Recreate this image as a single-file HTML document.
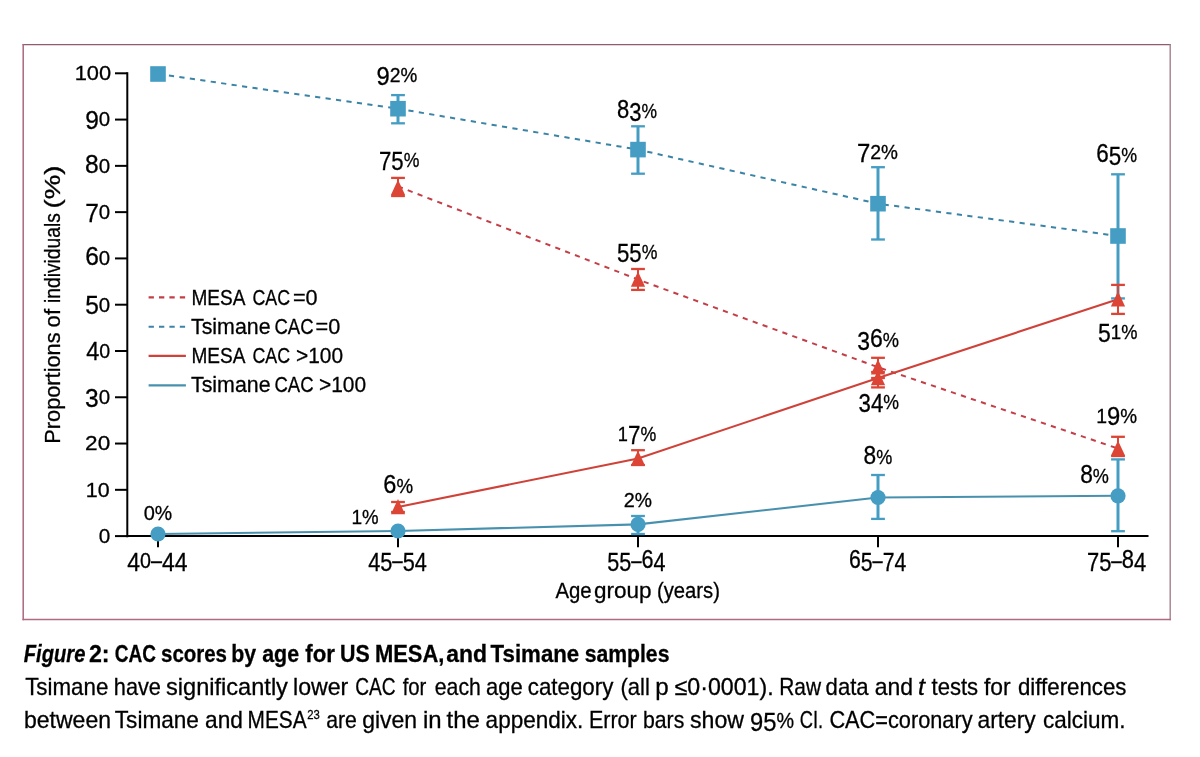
<!DOCTYPE html>
<html><head><meta charset="utf-8"><title>Figure 2</title>
<style>html,body{margin:0;padding:0;background:#fff;width:1200px;height:757px;overflow:hidden;font-family:"Liberation Sans",sans-serif;}svg{display:block;will-change:transform}</style>
</head><body><svg width="1200" height="757" viewBox="0 0 1200 757" font-family="'Liberation Sans', sans-serif"><line x1="22.6" y1="44.6" x2="1170.8" y2="44.6" stroke="#8e5d6f" stroke-width="1.4"/><line x1="23.2" y1="44" x2="23.2" y2="620.2" stroke="#a8687f" stroke-width="1.5"/><line x1="1170.2" y1="44" x2="1170.2" y2="620.2" stroke="#a3808e" stroke-width="1.4"/><line x1="22.5" y1="619.5" x2="1170.8" y2="619.5" stroke="#b06a84" stroke-width="1.4"/><line x1="127.3" y1="72.3" x2="127.3" y2="537.3" stroke="#000" stroke-width="2"/><line x1="126.3" y1="536.1" x2="1148.5" y2="536.1" stroke="#000" stroke-width="2"/><line x1="115" y1="536.10" x2="127.5" y2="536.10" stroke="#000" stroke-width="2"/><line x1="115" y1="489.82" x2="127.5" y2="489.82" stroke="#000" stroke-width="2"/><line x1="115" y1="443.54" x2="127.5" y2="443.54" stroke="#000" stroke-width="2"/><line x1="115" y1="397.26" x2="127.5" y2="397.26" stroke="#000" stroke-width="2"/><line x1="115" y1="350.98" x2="127.5" y2="350.98" stroke="#000" stroke-width="2"/><line x1="115" y1="304.70" x2="127.5" y2="304.70" stroke="#000" stroke-width="2"/><line x1="115" y1="258.42" x2="127.5" y2="258.42" stroke="#000" stroke-width="2"/><line x1="115" y1="212.14" x2="127.5" y2="212.14" stroke="#000" stroke-width="2"/><line x1="115" y1="165.86" x2="127.5" y2="165.86" stroke="#000" stroke-width="2"/><line x1="115" y1="119.58" x2="127.5" y2="119.58" stroke="#000" stroke-width="2"/><line x1="115" y1="73.30" x2="127.5" y2="73.30" stroke="#000" stroke-width="2"/><line x1="158" y1="536" x2="158" y2="547.3" stroke="#000" stroke-width="2"/><line x1="398" y1="536" x2="398" y2="547.3" stroke="#000" stroke-width="2"/><line x1="638" y1="536" x2="638" y2="547.3" stroke="#000" stroke-width="2"/><line x1="878" y1="536" x2="878" y2="547.3" stroke="#000" stroke-width="2"/><line x1="1118" y1="536" x2="1118" y2="547.3" stroke="#000" stroke-width="2"/><line x1="148.6" y1="297.4" x2="185.9" y2="297.4" stroke="#c43e48" stroke-width="2.1" stroke-dasharray="5.3 5.1"/><line x1="148.6" y1="326.7" x2="185.9" y2="326.7" stroke="#3b84a6" stroke-width="2.1" stroke-dasharray="5.3 5.1"/><line x1="148.6" y1="355.9" x2="185.9" y2="355.9" stroke="#cf4239" stroke-width="2.1"/><line x1="148.6" y1="385.4" x2="185.9" y2="385.4" stroke="#4891ae" stroke-width="2.1"/><line x1="158" y1="74.0" x2="398" y2="108.7" stroke="#3b84a6" stroke-width="2" stroke-dasharray="5.2 5.35" stroke-dashoffset="10.06"/><line x1="398" y1="108.7" x2="638" y2="149.6" stroke="#3b84a6" stroke-width="2" stroke-dasharray="5.2 5.35" stroke-dashoffset="0.01"/><line x1="638" y1="149.6" x2="878" y2="203.7" stroke="#3b84a6" stroke-width="2" stroke-dasharray="5.2 5.35" stroke-dashoffset="1.02"/><line x1="878" y1="203.7" x2="1118" y2="236.0" stroke="#3b84a6" stroke-width="2" stroke-dasharray="5.2 5.35" stroke-dashoffset="4.88"/><line x1="398" y1="186.4" x2="638" y2="279.5" stroke="#c43e48" stroke-width="2" stroke-dasharray="5.2 5.35" stroke-dashoffset="0.09"/><line x1="638" y1="279.5" x2="878" y2="367.2" stroke="#c43e48" stroke-width="2" stroke-dasharray="5.2 5.35" stroke-dashoffset="4.51"/><line x1="878" y1="367.2" x2="1118" y2="448.5" stroke="#c43e48" stroke-width="2" stroke-dasharray="5.2 5.35" stroke-dashoffset="7.37"/><polyline points="398,507.0 638,458.5 878,378.0 1118,299.2" fill="none" stroke="#cf4239" stroke-width="2.1"/><polyline points="158,534.0 398,531.0 638,524.4 878,497.5 1118,495.8" fill="none" stroke="#4891ae" stroke-width="2.1"/><rect x="150.2" y="66.2" width="15.6" height="15.6" fill="#459dc3"/><line x1="398" y1="95.1" x2="398" y2="123.3" stroke="#459dc3" stroke-width="3"/><line x1="391.1" y1="95.1" x2="404.9" y2="95.1" stroke="#459dc3" stroke-width="2.3"/><line x1="391.1" y1="123.3" x2="404.9" y2="123.3" stroke="#459dc3" stroke-width="2.3"/><rect x="390.2" y="100.9" width="15.6" height="15.6" fill="#459dc3"/><line x1="638" y1="126.3" x2="638" y2="173.7" stroke="#459dc3" stroke-width="3"/><line x1="631.1" y1="126.3" x2="644.9" y2="126.3" stroke="#459dc3" stroke-width="2.3"/><line x1="631.1" y1="173.7" x2="644.9" y2="173.7" stroke="#459dc3" stroke-width="2.3"/><rect x="630.2" y="141.79999999999998" width="15.6" height="15.6" fill="#459dc3"/><line x1="878" y1="167.2" x2="878" y2="239.5" stroke="#459dc3" stroke-width="3"/><line x1="871.1" y1="167.2" x2="884.9" y2="167.2" stroke="#459dc3" stroke-width="2.3"/><line x1="871.1" y1="239.5" x2="884.9" y2="239.5" stroke="#459dc3" stroke-width="2.3"/><rect x="870.2" y="195.89999999999998" width="15.6" height="15.6" fill="#459dc3"/><line x1="1118" y1="174.3" x2="1118" y2="298.4" stroke="#459dc3" stroke-width="3"/><line x1="1111.1" y1="174.3" x2="1124.9" y2="174.3" stroke="#459dc3" stroke-width="2.3"/><line x1="1111.1" y1="298.4" x2="1124.9" y2="298.4" stroke="#459dc3" stroke-width="2.3"/><rect x="1110.2" y="228.2" width="15.6" height="15.6" fill="#459dc3"/><line x1="398" y1="177.9" x2="398" y2="196" stroke="#dc4535" stroke-width="2"/><line x1="391.1" y1="177.9" x2="404.9" y2="177.9" stroke="#dc4535" stroke-width="2.3"/><line x1="391.1" y1="196" x2="404.9" y2="196" stroke="#dc4535" stroke-width="2.3"/><line x1="638" y1="269.0" x2="638" y2="289.9" stroke="#dc4535" stroke-width="2"/><line x1="631.1" y1="269.0" x2="644.9" y2="269.0" stroke="#dc4535" stroke-width="2.3"/><line x1="631.1" y1="289.9" x2="644.9" y2="289.9" stroke="#dc4535" stroke-width="2.3"/><line x1="878" y1="357.8" x2="878" y2="378.0" stroke="#dc4535" stroke-width="2"/><line x1="871.1" y1="357.8" x2="884.9" y2="357.8" stroke="#dc4535" stroke-width="2.3"/><line x1="871.1" y1="378.0" x2="884.9" y2="378.0" stroke="#dc4535" stroke-width="2.3"/><line x1="1118" y1="436.8" x2="1118" y2="456.0" stroke="#dc4535" stroke-width="2"/><line x1="1111.1" y1="436.8" x2="1124.9" y2="436.8" stroke="#dc4535" stroke-width="2.3"/><line x1="1111.1" y1="456.0" x2="1124.9" y2="456.0" stroke="#dc4535" stroke-width="2.3"/><line x1="398" y1="502.0" x2="398" y2="512" stroke="#dc4535" stroke-width="2"/><line x1="391.1" y1="502.0" x2="404.9" y2="502.0" stroke="#dc4535" stroke-width="2.3"/><line x1="391.1" y1="512" x2="404.9" y2="512" stroke="#dc4535" stroke-width="2.3"/><line x1="638" y1="450.2" x2="638" y2="465" stroke="#dc4535" stroke-width="2"/><line x1="631.1" y1="450.2" x2="644.9" y2="450.2" stroke="#dc4535" stroke-width="2.3"/><line x1="631.1" y1="465" x2="644.9" y2="465" stroke="#dc4535" stroke-width="2.3"/><line x1="878" y1="372" x2="878" y2="387.4" stroke="#dc4535" stroke-width="2"/><line x1="871.1" y1="372" x2="884.9" y2="372" stroke="#dc4535" stroke-width="2.3"/><line x1="871.1" y1="387.4" x2="884.9" y2="387.4" stroke="#dc4535" stroke-width="2.3"/><line x1="1118" y1="284.9" x2="1118" y2="313.9" stroke="#dc4535" stroke-width="2"/><line x1="1111.1" y1="284.9" x2="1124.9" y2="284.9" stroke="#dc4535" stroke-width="2.3"/><line x1="1111.1" y1="313.9" x2="1124.9" y2="313.9" stroke="#dc4535" stroke-width="2.3"/><polygon points="398,179.85 405.1,194.95 390.9,194.95" fill="#dc4535"/><polygon points="638,271.60 645.1,286.70 630.9,286.70" fill="#dc4535"/><polygon points="878,359.30 885.1,374.40 870.9,374.40" fill="#dc4535"/><polygon points="1118,440.60 1125.1,455.70 1110.9,455.70" fill="#dc4535"/><polygon points="398,499.10 405.1,514.20 390.9,514.20" fill="#dc4535"/><polygon points="638,450.60 645.1,465.70 630.9,465.70" fill="#dc4535"/><polygon points="878,370.10 885.1,385.20 870.9,385.20" fill="#dc4535"/><polygon points="1118,291.30 1125.1,306.40 1110.9,306.40" fill="#dc4535"/><circle cx="158" cy="534.0" r="7.6" fill="#459dc3"/><circle cx="398" cy="531.0" r="7.6" fill="#459dc3"/><line x1="638" y1="516.0" x2="638" y2="534.0" stroke="#459dc3" stroke-width="3"/><line x1="631.1" y1="516.0" x2="644.9" y2="516.0" stroke="#459dc3" stroke-width="2.3"/><line x1="631.1" y1="534.0" x2="644.9" y2="534.0" stroke="#459dc3" stroke-width="2.3"/><circle cx="638" cy="524.4" r="7.6" fill="#459dc3"/><line x1="878" y1="475.0" x2="878" y2="518.9" stroke="#459dc3" stroke-width="3"/><line x1="871.1" y1="475.0" x2="884.9" y2="475.0" stroke="#459dc3" stroke-width="2.3"/><line x1="871.1" y1="518.9" x2="884.9" y2="518.9" stroke="#459dc3" stroke-width="2.3"/><circle cx="878" cy="497.5" r="7.6" fill="#459dc3"/><line x1="1118" y1="459.4" x2="1118" y2="531.2" stroke="#459dc3" stroke-width="3"/><line x1="1111.1" y1="459.4" x2="1124.9" y2="459.4" stroke="#459dc3" stroke-width="2.3"/><line x1="1111.1" y1="531.2" x2="1124.9" y2="531.2" stroke="#459dc3" stroke-width="2.3"/><circle cx="1118" cy="495.8" r="7.6" fill="#459dc3"/><g stroke="#000" stroke-width="0.3"><text x="110.20" y="542.9" font-size="21" text-anchor="end" font-weight="normal" font-style="normal" fill="#000" textLength="11.53" lengthAdjust="spacingAndGlyphs"><tspan font-size="21">0</tspan></text><text x="109.60" y="496.62" font-size="21" text-anchor="end" font-weight="normal" font-style="normal" fill="#000" textLength="23.81" lengthAdjust="spacingAndGlyphs"><tspan font-size="21">1</tspan><tspan font-size="21">0</tspan></text><text x="110.20" y="450.34" font-size="21" text-anchor="end" font-weight="normal" font-style="normal" fill="#000" textLength="25.08" lengthAdjust="spacingAndGlyphs"><tspan font-size="21">2</tspan><tspan font-size="21">0</tspan></text><text x="110.20" y="404.06" font-size="21" text-anchor="end" font-weight="normal" font-style="normal" fill="#000" textLength="25.08" lengthAdjust="spacingAndGlyphs"><tspan font-size="25.2" dy="2.60">3</tspan><tspan font-size="21" dy="-2.60">0</tspan></text><text x="110.20" y="357.78" font-size="21" text-anchor="end" font-weight="normal" font-style="normal" fill="#000" textLength="23.99" lengthAdjust="spacingAndGlyphs"><tspan font-size="25.2" dy="2.60">4</tspan><tspan font-size="21" dy="-2.60">0</tspan></text><text x="110.20" y="311.5" font-size="21" text-anchor="end" font-weight="normal" font-style="normal" fill="#000" textLength="24.99" lengthAdjust="spacingAndGlyphs"><tspan font-size="25.2" dy="2.60">5</tspan><tspan font-size="21" dy="-2.60">0</tspan></text><text x="110.20" y="265.22" font-size="21" text-anchor="end" font-weight="normal" font-style="normal" fill="#000" textLength="24.99" lengthAdjust="spacingAndGlyphs"><tspan font-size="25.2">6</tspan><tspan font-size="21">0</tspan></text><text x="110.20" y="218.94" font-size="21" text-anchor="end" font-weight="normal" font-style="normal" fill="#000" textLength="24.99" lengthAdjust="spacingAndGlyphs"><tspan font-size="25.2" dy="2.60">7</tspan><tspan font-size="21" dy="-2.60">0</tspan></text><text x="110.20" y="172.66" font-size="21" text-anchor="end" font-weight="normal" font-style="normal" fill="#000" textLength="25.08" lengthAdjust="spacingAndGlyphs"><tspan font-size="25.2">8</tspan><tspan font-size="21">0</tspan></text><text x="110.20" y="126.38" font-size="21" text-anchor="end" font-weight="normal" font-style="normal" fill="#000" textLength="24.99" lengthAdjust="spacingAndGlyphs"><tspan font-size="25.2" dy="2.60">9</tspan><tspan font-size="21" dy="-2.60">0</tspan></text><text x="111.20" y="80.1" font-size="21" text-anchor="end" font-weight="normal" font-style="normal" fill="#000" textLength="36.47" lengthAdjust="spacingAndGlyphs"><tspan font-size="21">1</tspan><tspan font-size="21">0</tspan><tspan font-size="21">0</tspan></text><text x="157.40" y="568" font-size="21.6" text-anchor="middle" font-weight="normal" font-style="normal" fill="#000" textLength="60.25" lengthAdjust="spacingAndGlyphs"><tspan font-size="25.2" dy="2.70">4</tspan><tspan font-size="21.6" dy="-2.70">0</tspan><tspan font-size="21.6">–</tspan><tspan font-size="25.2" dy="2.70">4</tspan><tspan font-size="25.2">4</tspan></text><text x="397.50" y="568" font-size="21.6" text-anchor="middle" font-weight="normal" font-style="normal" fill="#000" textLength="58.71" lengthAdjust="spacingAndGlyphs"><tspan font-size="25.2" dy="2.70">4</tspan><tspan font-size="25.2">5</tspan><tspan font-size="21.6" dy="-2.70">–</tspan><tspan font-size="25.2" dy="2.70">5</tspan><tspan font-size="25.2">4</tspan></text><text x="636.40" y="568" font-size="21.6" text-anchor="middle" font-weight="normal" font-style="normal" fill="#000" textLength="58.29" lengthAdjust="spacingAndGlyphs"><tspan font-size="25.2" dy="2.70">5</tspan><tspan font-size="25.2">5</tspan><tspan font-size="21.6" dy="-2.70">–</tspan><tspan font-size="25.2">6</tspan><tspan font-size="25.2" dy="2.70">4</tspan></text><text x="877.60" y="568" font-size="21.6" text-anchor="middle" font-weight="normal" font-style="normal" fill="#000" textLength="57.25" lengthAdjust="spacingAndGlyphs"><tspan font-size="25.2">6</tspan><tspan font-size="25.2" dy="2.70">5</tspan><tspan font-size="21.6" dy="-2.70">–</tspan><tspan font-size="25.2" dy="2.70">7</tspan><tspan font-size="25.2">4</tspan></text><text x="1116.60" y="568" font-size="21.6" text-anchor="middle" font-weight="normal" font-style="normal" fill="#000" textLength="59.31" lengthAdjust="spacingAndGlyphs"><tspan font-size="25.2" dy="2.70">7</tspan><tspan font-size="25.2">5</tspan><tspan font-size="21.6" dy="-2.70">–</tspan><tspan font-size="25.2">8</tspan><tspan font-size="25.2" dy="2.70">4</tspan></text><text x="555.40" y="597.75" font-size="22" text-anchor="start" font-weight="normal" font-style="normal" fill="#000" textLength="36.20" lengthAdjust="spacingAndGlyphs">Age</text><text x="594.00" y="597.75" font-size="22" text-anchor="start" font-weight="normal" font-style="normal" fill="#000" textLength="57.54" lengthAdjust="spacingAndGlyphs">group</text><text x="657.00" y="597.75" font-size="22" text-anchor="start" font-weight="normal" font-style="normal" fill="#000" textLength="62.94" lengthAdjust="spacingAndGlyphs">(years)</text><text transform="translate(59.8,0) rotate(-90)" x="-443.70" y="0" font-size="22.5" fill="#000" textLength="111.21" lengthAdjust="spacingAndGlyphs">Proportions</text><text transform="translate(59.8,0) rotate(-90)" x="-327.40" y="0" font-size="22.5" fill="#000" textLength="18.44" lengthAdjust="spacingAndGlyphs">of</text><text transform="translate(59.8,0) rotate(-90)" x="-303.00" y="0" font-size="22.5" fill="#000" textLength="89.90" lengthAdjust="spacingAndGlyphs">individuals</text><text transform="translate(59.8,0) rotate(-90)" x="-208.50" y="0" font-size="22.5" fill="#000" textLength="42.93" lengthAdjust="spacingAndGlyphs">(%)</text><text x="191.50" y="304.6" font-size="22.4" text-anchor="start" font-weight="normal" font-style="normal" fill="#000" textLength="54.00" lengthAdjust="spacingAndGlyphs">MESA</text><text x="252.50" y="304.6" font-size="22.4" text-anchor="start" font-weight="normal" font-style="normal" fill="#000" textLength="37.63" lengthAdjust="spacingAndGlyphs">CAC</text><text x="293.00" y="304.6" font-size="22.4" text-anchor="start" font-weight="normal" font-style="normal" fill="#000" textLength="24.65" lengthAdjust="spacingAndGlyphs">=0</text><text x="191.00" y="333.6" font-size="22.4" text-anchor="start" font-weight="normal" font-style="normal" fill="#000" textLength="79.52" lengthAdjust="spacingAndGlyphs">Tsimane</text><text x="274.50" y="333.6" font-size="22.4" text-anchor="start" font-weight="normal" font-style="normal" fill="#000" textLength="39.09" lengthAdjust="spacingAndGlyphs">CAC</text><text x="315.50" y="333.6" font-size="22.4" text-anchor="start" font-weight="normal" font-style="normal" fill="#000" textLength="24.71" lengthAdjust="spacingAndGlyphs">=0</text><text x="191.50" y="362.9" font-size="22.4" text-anchor="start" font-weight="normal" font-style="normal" fill="#000" textLength="54.00" lengthAdjust="spacingAndGlyphs">MESA</text><text x="252.50" y="362.9" font-size="22.4" text-anchor="start" font-weight="normal" font-style="normal" fill="#000" textLength="37.63" lengthAdjust="spacingAndGlyphs">CAC</text><text x="296.00" y="362.9" font-size="22.4" text-anchor="start" font-weight="normal" font-style="normal" fill="#000" textLength="47.03" lengthAdjust="spacingAndGlyphs">&gt;100</text><text x="191.00" y="392.2" font-size="22.4" text-anchor="start" font-weight="normal" font-style="normal" fill="#000" textLength="79.52" lengthAdjust="spacingAndGlyphs">Tsimane</text><text x="274.50" y="392.2" font-size="22.4" text-anchor="start" font-weight="normal" font-style="normal" fill="#000" textLength="39.09" lengthAdjust="spacingAndGlyphs">CAC</text><text x="319.00" y="392.2" font-size="22.4" text-anchor="start" font-weight="normal" font-style="normal" fill="#000" textLength="47.12" lengthAdjust="spacingAndGlyphs">&gt;100</text><text x="397.00" y="82" font-size="20.5" text-anchor="middle" font-weight="normal" font-style="normal" fill="#000" textLength="40.77" lengthAdjust="spacingAndGlyphs"><tspan font-size="25.2" dy="2.80">9</tspan><tspan font-size="20.5" dy="-2.80">2</tspan><tspan font-size="20">%</tspan></text><text x="399.12" y="166.75" font-size="20.5" text-anchor="middle" font-weight="normal" font-style="normal" fill="#000" textLength="40.43" lengthAdjust="spacingAndGlyphs"><tspan font-size="25.2" dy="2.80">7</tspan><tspan font-size="25.2">5</tspan><tspan font-size="20" dy="-2.80">%</tspan></text><text x="637.05" y="118" font-size="20.5" text-anchor="middle" font-weight="normal" font-style="normal" fill="#000" textLength="40.03" lengthAdjust="spacingAndGlyphs"><tspan font-size="25.2">8</tspan><tspan font-size="25.2" dy="2.80">3</tspan><tspan font-size="20" dy="-2.80">%</tspan></text><text x="637.12" y="258.75" font-size="20.5" text-anchor="middle" font-weight="normal" font-style="normal" fill="#000" textLength="40.43" lengthAdjust="spacingAndGlyphs"><tspan font-size="25.2" dy="2.80">5</tspan><tspan font-size="25.2">5</tspan><tspan font-size="20" dy="-2.80">%</tspan></text><text x="877.50" y="158.75" font-size="20.5" text-anchor="middle" font-weight="normal" font-style="normal" fill="#000" textLength="41.03" lengthAdjust="spacingAndGlyphs"><tspan font-size="25.2" dy="2.80">7</tspan><tspan font-size="20.5" dy="-2.80">2</tspan><tspan font-size="20">%</tspan></text><text x="878.00" y="346.75" font-size="20.5" text-anchor="middle" font-weight="normal" font-style="normal" fill="#000" textLength="41.74" lengthAdjust="spacingAndGlyphs"><tspan font-size="25.2" dy="2.80">3</tspan><tspan font-size="25.2" dy="-2.80">6</tspan><tspan font-size="20">%</tspan></text><text x="878.75" y="408.75" font-size="20.5" text-anchor="middle" font-weight="normal" font-style="normal" fill="#000" textLength="40.50" lengthAdjust="spacingAndGlyphs"><tspan font-size="25.2" dy="2.80">3</tspan><tspan font-size="25.2">4</tspan><tspan font-size="20" dy="-2.80">%</tspan></text><text x="1116.75" y="161.75" font-size="20.5" text-anchor="middle" font-weight="normal" font-style="normal" fill="#000" textLength="40.77" lengthAdjust="spacingAndGlyphs"><tspan font-size="25.2">6</tspan><tspan font-size="25.2" dy="2.80">5</tspan><tspan font-size="20" dy="-2.80">%</tspan></text><text x="1117.75" y="338.75" font-size="20.5" text-anchor="middle" font-weight="normal" font-style="normal" fill="#000" textLength="39.44" lengthAdjust="spacingAndGlyphs"><tspan font-size="25.2" dy="2.80">5</tspan><tspan font-size="20.5" dy="-2.80">1</tspan><tspan font-size="20">%</tspan></text><text x="1116.70" y="422.6" font-size="20.5" text-anchor="middle" font-weight="normal" font-style="normal" fill="#000" textLength="40.87" lengthAdjust="spacingAndGlyphs"><tspan font-size="20.5">1</tspan><tspan font-size="25.2" dy="2.80">9</tspan><tspan font-size="20" dy="-2.80">%</tspan></text><text x="1094.50" y="483" font-size="20.5" text-anchor="middle" font-weight="normal" font-style="normal" fill="#000" textLength="28.73" lengthAdjust="spacingAndGlyphs"><tspan font-size="25.2">8</tspan><tspan font-size="20">%</tspan></text><text x="877.85" y="463.8" font-size="20.5" text-anchor="middle" font-weight="normal" font-style="normal" fill="#000" textLength="28.72" lengthAdjust="spacingAndGlyphs"><tspan font-size="25.2">8</tspan><tspan font-size="20">%</tspan></text><text x="637.00" y="440.7" font-size="20.5" text-anchor="middle" font-weight="normal" font-style="normal" fill="#000" textLength="38.37" lengthAdjust="spacingAndGlyphs"><tspan font-size="20.5">1</tspan><tspan font-size="25.2" dy="2.80">7</tspan><tspan font-size="20" dy="-2.80">%</tspan></text><text x="637.80" y="506.7" font-size="20.5" text-anchor="middle" font-weight="normal" font-style="normal" fill="#000" textLength="28.24" lengthAdjust="spacingAndGlyphs"><tspan font-size="20.5">2</tspan><tspan font-size="20">%</tspan></text><text x="398.20" y="492.8" font-size="20.5" text-anchor="middle" font-weight="normal" font-style="normal" fill="#000" textLength="29.69" lengthAdjust="spacingAndGlyphs"><tspan font-size="25.2">6</tspan><tspan font-size="20">%</tspan></text><text x="365.00" y="523.9" font-size="20.5" text-anchor="middle" font-weight="normal" font-style="normal" fill="#000" textLength="27.21" lengthAdjust="spacingAndGlyphs"><tspan font-size="20.5">1</tspan><tspan font-size="20">%</tspan></text><text x="157.90" y="520" font-size="20.5" text-anchor="middle" font-weight="normal" font-style="normal" fill="#000" textLength="28.48" lengthAdjust="spacingAndGlyphs"><tspan font-size="20.5">0</tspan><tspan font-size="20">%</tspan></text><text x="23.80" y="661.75" font-size="23.8" text-anchor="start" font-weight="bold" font-style="italic" fill="#000" textLength="61.55" lengthAdjust="spacingAndGlyphs">Figure</text><text x="88.90" y="661.75" font-size="23.8" text-anchor="start" font-weight="bold" font-style="normal" fill="#000" textLength="20.66" lengthAdjust="spacingAndGlyphs">2:</text><text x="114.80" y="661.75" font-size="23.8" text-anchor="start" font-weight="bold" font-style="normal" fill="#000" textLength="41.26" lengthAdjust="spacingAndGlyphs">CAC</text><text x="161.00" y="661.75" font-size="23.8" text-anchor="start" font-weight="bold" font-style="normal" fill="#000" textLength="66.00" lengthAdjust="spacingAndGlyphs">scores</text><text x="231.30" y="661.75" font-size="23.8" text-anchor="start" font-weight="bold" font-style="normal" fill="#000" textLength="24.86" lengthAdjust="spacingAndGlyphs">by</text><text x="262.20" y="661.75" font-size="23.8" text-anchor="start" font-weight="bold" font-style="normal" fill="#000" textLength="36.90" lengthAdjust="spacingAndGlyphs">age</text><text x="305.30" y="661.75" font-size="23.8" text-anchor="start" font-weight="bold" font-style="normal" fill="#000" textLength="29.62" lengthAdjust="spacingAndGlyphs">for</text><text x="340.00" y="661.75" font-size="23.8" text-anchor="start" font-weight="bold" font-style="normal" fill="#000" textLength="29.70" lengthAdjust="spacingAndGlyphs">US</text><text x="374.90" y="661.75" font-size="23.8" text-anchor="start" font-weight="bold" font-style="normal" fill="#000" textLength="69.50" lengthAdjust="spacingAndGlyphs">MESA,</text><text x="446.20" y="661.75" font-size="23.8" text-anchor="start" font-weight="bold" font-style="normal" fill="#000" textLength="40.84" lengthAdjust="spacingAndGlyphs">and</text><text x="490.60" y="661.75" font-size="23.8" text-anchor="start" font-weight="bold" font-style="normal" fill="#000" textLength="88.63" lengthAdjust="spacingAndGlyphs">Tsimane</text><text x="584.70" y="661.75" font-size="23.8" text-anchor="start" font-weight="bold" font-style="normal" fill="#000" textLength="84.73" lengthAdjust="spacingAndGlyphs">samples</text><text x="25.20" y="694.9" font-size="23.8" text-anchor="start" font-weight="normal" font-style="normal" fill="#000" textLength="83.17" lengthAdjust="spacingAndGlyphs">Tsimane</text><text x="113.80" y="694.9" font-size="23.8" text-anchor="start" font-weight="normal" font-style="normal" fill="#000" textLength="47.14" lengthAdjust="spacingAndGlyphs">have</text><text x="166.00" y="694.9" font-size="23.8" text-anchor="start" font-weight="normal" font-style="normal" fill="#000" textLength="121.92" lengthAdjust="spacingAndGlyphs">significantly</text><text x="293.00" y="694.9" font-size="23.8" text-anchor="start" font-weight="normal" font-style="normal" fill="#000" textLength="55.26" lengthAdjust="spacingAndGlyphs">lower</text><text x="355.20" y="694.9" font-size="23.8" text-anchor="start" font-weight="normal" font-style="normal" fill="#000" textLength="40.29" lengthAdjust="spacingAndGlyphs">CAC</text><text x="402.70" y="694.9" font-size="23.8" text-anchor="start" font-weight="normal" font-style="normal" fill="#000" textLength="23.70" lengthAdjust="spacingAndGlyphs">for</text><text x="434.80" y="694.9" font-size="23.8" text-anchor="start" font-weight="normal" font-style="normal" fill="#000" textLength="46.02" lengthAdjust="spacingAndGlyphs">each</text><text x="486.00" y="694.9" font-size="23.8" text-anchor="start" font-weight="normal" font-style="normal" fill="#000" textLength="36.64" lengthAdjust="spacingAndGlyphs">age</text><text x="527.80" y="694.9" font-size="23.8" text-anchor="start" font-weight="normal" font-style="normal" fill="#000" textLength="85.57" lengthAdjust="spacingAndGlyphs">category</text><text x="620.50" y="694.9" font-size="23.8" text-anchor="start" font-weight="normal" font-style="normal" fill="#000" textLength="29.38" lengthAdjust="spacingAndGlyphs">(all</text><text x="655.20" y="694.9" font-size="23.8" text-anchor="start" font-weight="normal" font-style="normal" fill="#000" textLength="13.45" lengthAdjust="spacingAndGlyphs">p</text><text x="674.60" y="694.9" font-size="23.8" text-anchor="start" font-weight="normal" font-style="normal" fill="#000" textLength="99.00" lengthAdjust="spacingAndGlyphs">≤0·0001).</text><text x="779.20" y="694.9" font-size="23.8" text-anchor="start" font-weight="normal" font-style="normal" fill="#000" textLength="41.80" lengthAdjust="spacingAndGlyphs">Raw</text><text x="825.60" y="694.9" font-size="23.8" text-anchor="start" font-weight="normal" font-style="normal" fill="#000" textLength="43.05" lengthAdjust="spacingAndGlyphs">data</text><text x="874.80" y="694.9" font-size="23.8" text-anchor="start" font-weight="normal" font-style="normal" fill="#000" textLength="38.36" lengthAdjust="spacingAndGlyphs">and</text><text x="918.00" y="694.9" font-size="23.8" text-anchor="start" font-weight="normal" font-style="italic" fill="#000" textLength="7.00" lengthAdjust="spacingAndGlyphs">t</text><text x="931.50" y="694.9" font-size="23.8" text-anchor="start" font-weight="normal" font-style="normal" fill="#000" textLength="46.62" lengthAdjust="spacingAndGlyphs">tests</text><text x="984.00" y="694.9" font-size="23.8" text-anchor="start" font-weight="normal" font-style="normal" fill="#000" textLength="26.65" lengthAdjust="spacingAndGlyphs">for</text><text x="1018.00" y="694.9" font-size="23.8" text-anchor="start" font-weight="normal" font-style="normal" fill="#000" textLength="108.42" lengthAdjust="spacingAndGlyphs">differences</text><text x="24.00" y="727.7" font-size="23.8" text-anchor="start" font-weight="normal" font-style="normal" fill="#000" textLength="86.98" lengthAdjust="spacingAndGlyphs">between</text><text x="114.80" y="727.7" font-size="23.8" text-anchor="start" font-weight="normal" font-style="normal" fill="#000" textLength="84.15" lengthAdjust="spacingAndGlyphs">Tsimane</text><text x="205.10" y="727.7" font-size="23.8" text-anchor="start" font-weight="normal" font-style="normal" fill="#000" textLength="37.90" lengthAdjust="spacingAndGlyphs">and</text><text x="247.60" y="727.7" font-size="23.8" text-anchor="start" font-weight="normal" font-style="normal" fill="#000" textLength="59.03" lengthAdjust="spacingAndGlyphs">MESA</text><text x="326.20" y="727.7" font-size="23.8" text-anchor="start" font-weight="normal" font-style="normal" fill="#000" textLength="30.68" lengthAdjust="spacingAndGlyphs">are</text><text x="362.20" y="727.7" font-size="23.8" text-anchor="start" font-weight="normal" font-style="normal" fill="#000" textLength="54.94" lengthAdjust="spacingAndGlyphs">given</text><text x="423.00" y="727.7" font-size="23.8" text-anchor="start" font-weight="normal" font-style="normal" fill="#000" textLength="18.65" lengthAdjust="spacingAndGlyphs">in</text><text x="446.50" y="727.7" font-size="23.8" text-anchor="start" font-weight="normal" font-style="normal" fill="#000" textLength="33.28" lengthAdjust="spacingAndGlyphs">the</text><text x="485.60" y="727.7" font-size="23.8" text-anchor="start" font-weight="normal" font-style="normal" fill="#000" textLength="97.75" lengthAdjust="spacingAndGlyphs">appendix.</text><text x="588.90" y="727.7" font-size="23.8" text-anchor="start" font-weight="normal" font-style="normal" fill="#000" textLength="47.84" lengthAdjust="spacingAndGlyphs">Error</text><text x="643.00" y="727.7" font-size="23.8" text-anchor="start" font-weight="normal" font-style="normal" fill="#000" textLength="41.29" lengthAdjust="spacingAndGlyphs">bars</text><text x="690.00" y="727.7" font-size="23.8" text-anchor="start" font-weight="normal" font-style="normal" fill="#000" textLength="53.98" lengthAdjust="spacingAndGlyphs">show</text><text x="750.00" y="727.7" font-size="23.8" text-anchor="start" font-weight="normal" font-style="normal" fill="#000" textLength="44.05" lengthAdjust="spacingAndGlyphs"><tspan font-size="26.656000000000002" dy="3.00">9</tspan><tspan font-size="26.656000000000002">5</tspan><tspan font-size="22.134" dy="-3.00">%</tspan></text><text x="799.70" y="727.7" font-size="23.8" text-anchor="start" font-weight="normal" font-style="normal" fill="#000" textLength="23.37" lengthAdjust="spacingAndGlyphs">CI.</text><text x="829.40" y="727.7" font-size="23.8" text-anchor="start" font-weight="normal" font-style="normal" fill="#000" textLength="143.15" lengthAdjust="spacingAndGlyphs">CAC=coronary</text><text x="977.50" y="727.7" font-size="23.8" text-anchor="start" font-weight="normal" font-style="normal" fill="#000" textLength="58.23" lengthAdjust="spacingAndGlyphs">artery</text><text x="1043.10" y="727.7" font-size="23.8" text-anchor="start" font-weight="normal" font-style="normal" fill="#000" textLength="82.49" lengthAdjust="spacingAndGlyphs">calcium.</text><text x="307.2" y="718.8" font-size="13.2" textLength="12.6" lengthAdjust="spacingAndGlyphs" fill="#000">23</text></g></svg></body></html>
